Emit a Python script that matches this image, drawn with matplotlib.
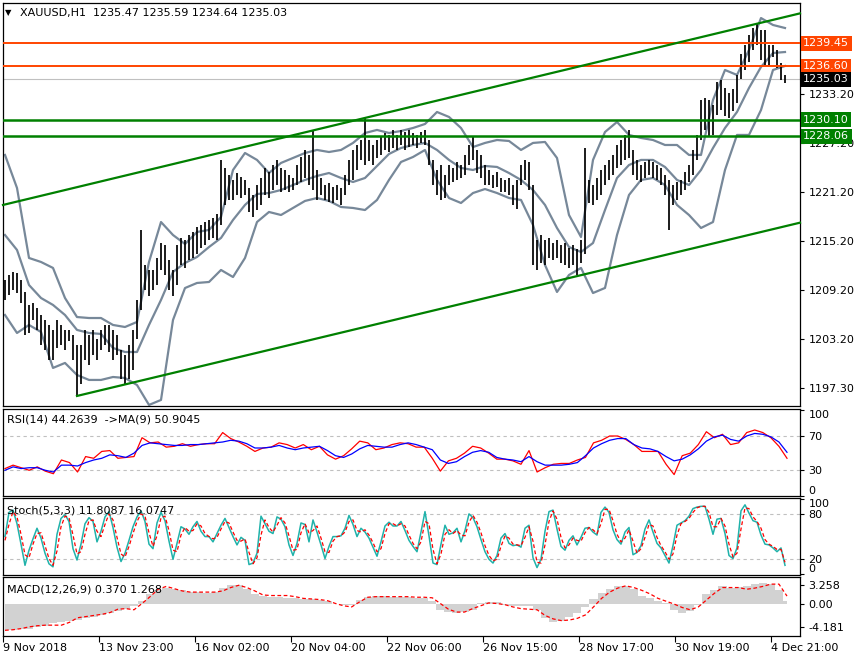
import numpy as np
import matplotlib.pyplot as plt
from matplotlib.transforms import blended_transform_factory

# ---- values (one bar every 2 hours) ----
bar_high = [
    1210.5, 1211.1, 1211.4, 1211.3, 1210.5, 1209.0, 1207.4, 1207.6, 1207.0, 1206.2,
    1205.6, 1204.9, 1204.4, 1205.6, 1204.9, 1204.4, 1204.4, 1203.7, 1202.5, 1202.5,
    1204.4, 1203.7, 1204.4, 1203.2, 1204.4, 1204.9, 1204.9, 1204.4, 1203.7, 1201.9,
    1201.3, 1202.5, 1204.4, 1208.0, 1216.6, 1212.3, 1211.7, 1211.7, 1213.2, 1215.0,
    1214.8, 1212.9, 1211.7, 1214.8, 1215.6, 1215.4, 1216.0, 1216.4, 1216.9, 1217.2,
    1217.6, 1217.8, 1218.1, 1218.5, 1225.1, 1224.2, 1223.3, 1222.7, 1223.6, 1223.1,
    1222.7, 1221.7, 1220.9, 1222.1, 1223.0, 1224.2, 1223.7, 1224.6, 1225.1, 1224.2,
    1223.9, 1223.3, 1223.0, 1224.6, 1225.5, 1226.4, 1225.8, 1228.8, 1223.9, 1223.0,
    1222.1, 1222.3, 1221.8, 1222.1, 1221.7, 1223.3, 1225.1, 1226.4, 1227.0, 1227.6,
    1230.3, 1227.6, 1227.0, 1227.6, 1228.0, 1228.5, 1228.2, 1228.8, 1228.2, 1228.8,
    1228.6, 1228.8, 1228.5, 1228.2, 1228.6, 1228.8, 1227.6, 1225.1, 1223.9, 1224.6,
    1223.3, 1224.6, 1224.2, 1224.9, 1224.6, 1225.8, 1227.0, 1228.1, 1226.4, 1225.8,
    1224.6, 1223.9, 1223.3, 1223.7, 1223.0, 1222.7, 1223.0, 1222.1, 1222.7, 1224.6,
    1225.1, 1224.9, 1222.1, 1215.4, 1216.0, 1215.4, 1215.6, 1215.0, 1215.4, 1214.8,
    1215.0, 1214.4, 1214.8, 1214.2, 1215.4, 1226.6, 1222.7, 1222.1, 1223.0, 1223.9,
    1224.6, 1225.1, 1225.8, 1227.0, 1227.6, 1228.2, 1228.8, 1226.4, 1225.1, 1224.6,
    1224.9, 1225.1, 1224.9, 1224.6, 1224.2, 1223.3, 1222.7, 1222.1, 1222.5, 1222.7,
    1223.7, 1224.6, 1226.4, 1228.2, 1232.5, 1232.8, 1232.5, 1231.9, 1234.7, 1234.9,
    1234.0, 1233.3, 1233.9, 1235.6, 1238.1, 1239.2, 1240.5, 1241.3, 1241.9, 1241.1,
    1241.1, 1239.2, 1239.2, 1238.6, 1237.0, 1235.6,
]
bar_low = [
    1208.0, 1208.6, 1209.2, 1208.9, 1207.6, 1203.7, 1204.0, 1205.6, 1204.4, 1202.5,
    1201.9, 1200.7, 1200.7, 1202.2, 1202.5, 1201.9, 1203.0, 1200.7, 1196.3, 1197.7,
    1200.7, 1200.1, 1201.3, 1200.7, 1201.9, 1202.5, 1201.6, 1200.7, 1201.3, 1198.3,
    1197.7, 1198.3, 1199.5, 1203.2, 1206.8, 1209.3, 1208.5, 1209.3, 1209.9, 1211.7,
    1211.1, 1209.3, 1208.5, 1209.9, 1212.3, 1211.9, 1212.9, 1213.2, 1213.6, 1214.4,
    1214.8, 1215.4, 1215.6, 1215.4, 1217.2, 1219.6, 1220.3, 1220.3, 1220.9, 1220.5,
    1220.9, 1218.8, 1218.2, 1219.0, 1219.6, 1220.9, 1220.5, 1221.5, 1222.1, 1221.2,
    1221.5, 1221.2, 1221.5, 1222.1, 1222.5, 1223.0, 1222.1, 1221.5, 1220.3, 1220.9,
    1220.3, 1220.0, 1219.9, 1220.3, 1219.6, 1220.9, 1222.1, 1222.7, 1223.9, 1225.1,
    1224.6, 1225.0, 1224.6, 1225.4, 1225.8, 1226.4, 1226.1, 1226.6, 1226.4, 1227.0,
    1226.4, 1226.7, 1227.0, 1226.6, 1227.2, 1227.0, 1224.6, 1222.1, 1220.9, 1220.3,
    1220.5, 1222.1, 1222.5, 1222.7, 1223.0, 1223.3, 1224.6, 1225.1, 1223.6, 1223.0,
    1222.1, 1222.1, 1221.7, 1221.9, 1221.2, 1221.2, 1220.9, 1219.6, 1219.2, 1222.1,
    1222.7, 1221.5, 1212.3, 1211.7, 1212.6, 1212.3, 1213.2, 1212.9, 1213.2, 1212.6,
    1212.3, 1211.9, 1212.3, 1211.1, 1212.6, 1213.6, 1219.9, 1219.6, 1220.3, 1220.9,
    1222.1, 1222.7, 1223.3, 1224.2, 1224.6, 1225.1, 1225.4, 1223.3, 1222.7, 1222.5,
    1223.0, 1223.3, 1223.0, 1222.7, 1222.1, 1220.9, 1216.6, 1219.6, 1220.3, 1220.9,
    1221.5, 1222.5, 1223.3, 1225.1, 1227.6, 1228.8, 1228.1, 1228.2, 1230.7, 1231.3,
    1230.5, 1230.3, 1231.1, 1232.1, 1235.1, 1236.2, 1237.2, 1238.6, 1239.2, 1237.4,
    1236.8, 1236.6, 1237.7, 1236.4, 1235.0, 1234.6,
]

# Bollinger bands, one value every 6 hours
bb_upper = [
    1225.77, 1221.73, 1213.16, 1212.67, 1211.94, 1208.26, 1205.93, 1205.81, 1205.81, 1204.96,
    1204.71, 1205.33, 1212.67, 1217.56, 1215.97, 1214.87, 1216.34, 1216.59, 1218.18, 1223.93,
    1226.01, 1225.16, 1223.56, 1224.79, 1225.40, 1226.01, 1226.38, 1226.13, 1226.38, 1227.24,
    1228.46, 1228.83, 1228.46, 1228.70, 1229.07, 1229.56, 1231.03, 1230.42, 1229.07, 1226.74,
    1227.24, 1227.60, 1227.48, 1226.38, 1227.24, 1227.36, 1225.40, 1218.42, 1215.73, 1225.16,
    1228.58, 1229.81, 1228.22, 1227.85, 1227.60, 1226.99, 1226.99, 1225.77, 1225.77, 1232.50,
    1236.17, 1235.56, 1238.62, 1242.53, 1241.68, 1241.31,
]
bb_middle = [
    1215.97, 1214.14, 1209.85, 1208.26, 1207.41, 1206.18, 1204.35, 1203.98, 1203.86, 1202.14,
    1201.65, 1201.65, 1204.96, 1208.02, 1211.45, 1212.55, 1213.28, 1214.50, 1215.61, 1217.81,
    1219.65, 1220.99, 1221.11, 1221.48, 1222.09, 1222.71, 1223.20, 1223.56, 1222.95, 1222.46,
    1222.95, 1224.42, 1225.89, 1226.62, 1226.99, 1227.24, 1226.38, 1225.16, 1224.18, 1223.93,
    1224.42, 1224.30, 1223.56, 1222.71, 1221.48, 1219.65, 1216.83, 1214.50, 1213.89, 1214.99,
    1219.03, 1222.95, 1224.54, 1225.16, 1225.16, 1224.30, 1222.71, 1222.09, 1223.93, 1226.62,
    1229.07, 1231.03, 1233.97, 1236.54, 1238.25, 1238.37,
]
bb_lower = [
    1206.18, 1203.98, 1204.96, 1204.10, 1199.70, 1200.31, 1198.84, 1198.23, 1198.23, 1198.59,
    1198.47, 1197.61, 1195.17, 1195.78, 1205.57, 1209.48, 1210.10, 1210.22, 1211.69, 1210.83,
    1213.16, 1217.56, 1218.79, 1218.42, 1219.28, 1220.14, 1220.50, 1220.14, 1219.40, 1219.28,
    1219.03, 1220.26, 1222.71, 1224.91, 1225.52, 1226.38, 1222.71, 1220.50, 1219.89, 1221.11,
    1221.60, 1221.11, 1220.50, 1220.26, 1217.20, 1212.30, 1209.00, 1211.08, 1211.94, 1208.87,
    1209.49, 1215.97, 1220.87, 1222.71, 1222.95, 1222.09, 1219.65, 1218.42, 1216.83, 1217.56,
    1223.93, 1228.22, 1228.22, 1231.27, 1236.17, 1236.66,
]

# RSI(14) and its MA(9), one value every 4 hours
rsi_values = [
    32, 36, 33, 30, 34, 29, 26, 42, 39, 28,
    46, 44, 52, 53, 44, 45, 46, 68, 62, 63,
    57, 58, 61, 58, 60, 61, 61, 74, 67, 63,
    58, 52, 56, 57, 62, 60, 56, 60, 54, 58,
    48, 43, 47, 55, 64, 62, 54, 56, 60, 62,
    61, 57, 57, 44, 29, 41, 44, 50, 58, 56,
    50, 43, 43, 41, 37, 53, 28, 33, 37, 38,
    38, 42, 45, 62, 65, 70, 70, 66, 60, 52,
    52, 52, 37, 25, 47, 50, 60, 75, 68, 72,
    60, 62, 74, 77, 74, 68, 58, 44,
]
rsi_ma = [
    30, 34, 32, 33, 33, 30, 28, 36, 36, 35,
    39, 42, 44, 48, 47, 45, 50, 59, 62, 61,
    60, 59, 59, 60, 60, 61, 62, 63, 65, 64,
    61, 56, 56, 57, 59, 56, 54, 56, 57, 58,
    53, 47, 45, 49, 55, 59, 58, 57, 57, 60,
    62, 60, 57, 54, 42, 38, 40, 46, 51, 53,
    51, 45, 43, 42, 40, 46, 40, 36, 36, 36,
    37, 39, 47, 56, 61, 65, 67, 67, 60, 56,
    55, 52, 46, 41, 43, 48, 55, 64, 69, 71,
    66, 64, 70, 73, 72, 69, 63, 51,
]

# Stochastic(5,3,3), one value every 2 hours
stoch_k = [
    50, 82, 85, 67, 40, 12, 32, 47, 61, 48,
    28, 14, 10, 53, 74, 79, 70, 34, 19, 40,
    67, 75, 70, 43, 57, 76, 83, 62, 36, 17,
    28, 45, 63, 76, 84, 70, 40, 34, 68, 82,
    71, 44, 20, 41, 63, 60, 53, 63, 70, 57,
    50, 50, 43, 54, 65, 74, 62, 50, 39, 49,
    45, 13, 15, 28, 77, 67, 57, 54, 76, 73,
    63, 39, 25, 41, 68, 66, 43, 72, 56, 39,
    21, 37, 50, 50, 51, 61, 78, 66, 50, 61,
    56, 48, 36, 24, 43, 64, 69, 64, 64, 70,
    58, 45, 37, 30, 56, 83, 51, 15, 13, 40,
    65, 53, 55, 61, 43, 58, 80, 75, 63, 46,
    30, 20, 15, 25, 48, 54, 41, 38, 39, 36,
    61, 65, 22, 9, 20, 57, 83, 85, 60, 37,
    32, 45, 51, 39, 49, 61, 62, 56, 52, 82,
    89, 82, 59, 46, 40, 56, 62, 26, 29, 38,
    60, 72, 56, 41, 35, 25, 15, 38, 65, 68,
    71, 77, 87, 89, 90, 90, 73, 53, 73, 74,
    54, 25, 21, 35, 84, 92, 81, 71, 69, 52,
    40, 39, 35, 30, 35, 12,
]
stoch_d = [
    45, 66, 83, 76, 53, 26, 22, 40, 54, 55,
    38, 21, 12, 31, 63, 77, 75, 52, 27, 30,
    53, 71, 72, 57, 50, 66, 80, 72, 49, 27,
    23, 37, 54, 70, 80, 77, 55, 37, 51, 75,
    77, 58, 32, 30, 52, 62, 57, 58, 67, 64,
    54, 50, 47, 49, 60, 70, 68, 56, 45, 44,
    47, 29, 14, 22, 52, 72, 62, 56, 65, 75,
    68, 51, 32, 33, 55, 67, 55, 58, 64, 48,
    30, 29, 44, 50, 51, 56, 70, 72, 58, 56,
    59, 52, 42, 30, 34, 54, 67, 67, 64, 67,
    64, 52, 41, 34, 43, 70, 67, 33, 14, 27,
    53, 59, 54, 58, 52, 51, 69, 78, 69, 55,
    38, 25, 18, 20, 37, 51, 48, 40, 39, 38,
    49, 63, 44, 16, 15, 39, 70, 84, 73, 49,
    35, 39, 48, 45, 44, 55, 62, 59, 54, 67,
    86, 86, 71, 53, 43, 48, 59, 44, 28, 34,
    49, 66, 64, 49, 38, 30, 20, 27, 52, 67,
    70, 74, 82, 88, 90, 90, 82, 63, 63, 74,
    64, 40, 23, 28, 60, 88, 87, 76, 70, 61,
    46, 40, 37, 33, 33, 16,
]

# MACD(12,26,9): main (histogram) and signal, one value every 4 hours
macd_main = [
    -4.7, -4.6, -4.5, -4.4, -4.2, -3.9, -3.5, -3.2, -3.0, -2.9,
    -2.6, -2.3, -2.0, -1.7, -1.3, -0.9, -0.5, 0.4, 1.6, 2.4,
    2.8, 2.6, 2.3, 2.0, 2.0, 1.9, 2.1, 2.8, 3.2, 3.2,
    2.6, 1.6, 1.3, 1.2, 1.1, 1.0, 0.9, 0.8, 0.8, 0.6,
    0.4, -0.1, -0.3, -0.2, 0.6, 1.2, 1.4, 1.3, 1.2, 1.1,
    1.1, 1.0, 0.9, 0.5, -1.2, -1.5, -1.6, -1.5, -1.2, 0.1,
    0.2, 0.2, -0.3, -0.5, -0.5, -0.5, -1.2, -2.6, -3.2, -3.0,
    -2.4, -1.6, -0.6, 0.8, 1.8, 2.6, 3.0, 3.1, 2.6, 1.4,
    0.9, 0.5, 0.1, -1.2, -1.6, -1.3, -0.2, 1.6, 2.4, 3.0,
    2.8, 2.9, 3.1, 3.4, 3.6, 3.4, 2.4, 0.4,
]
macd_signal = [
    -4.7, -4.6, -4.4, -4.1, -3.9, -3.8, -3.8, -3.8, -3.3, -2.5,
    -2.3, -2.1, -1.9, -1.6, -1.0, -0.9, -1.1, 0.0, 1.2, 2.5,
    3.0, 2.6, 2.2, 2.0, 2.0, 2.0, 2.0, 2.2, 2.8, 3.2,
    2.8, 2.2, 1.5, 1.4, 1.4, 1.4, 1.2, 0.9, 0.8, 0.7,
    0.5, 0.0, -0.4, -0.6, 0.3, 1.1, 1.2, 1.2, 1.2, 1.2,
    1.2, 1.1, 1.1, 1.0, 0.0, -1.0, -1.5, -1.5, -0.9, -0.4,
    0.1, 0.0, -0.2, -0.6, -0.9, -1.0, -1.1, -2.1, -2.7, -3.0,
    -2.9, -2.6, -2.0, -0.6, 0.9, 2.0, 2.7, 3.1, 2.8, 2.3,
    1.7, 0.9, 0.4, -0.1, -0.7, -1.1, -0.6, 0.6, 1.8, 2.8,
    2.8, 2.8, 2.5, 2.7, 3.0, 3.4, 3.4, 1.3,
]

price_ticks = [1233.20, 1227.20, 1221.20, 1215.20, 1209.20, 1203.20, 1197.30]
resistance_levels = [1239.45, 1236.60]
support_levels = [1230.10, 1228.06]
last_price = 1235.03
# channel lines: (hour, price) anchors
channel_top = [(-1, 1219.65), (397.5, 1243.10)]
channel_bottom = [(36, 1196.27), (397.5, 1217.48)]
date_labels = ["9 Nov 2018", "13 Nov 23:00", "16 Nov 02:00", "20 Nov 04:00",
               "22 Nov 06:00", "26 Nov 15:00", "28 Nov 17:00", "30 Nov 19:00",
               "4 Dec 21:00"]
date_hours = [-1, 47, 95, 143, 191, 239, 287, 335, 383]

W, H = 860, 660
XMIN, XMAX = -1, 397.5
ORANGE = "#ff4500"
GREEN = "#008000"
BAND = "#778899"


def panel(fig, top, bottom):
    """Create a sub-window spanning the given pixel rows."""
    ax = fig.add_axes([3 / W, 1 - bottom / H, 797 / W, (bottom - top) / H])
    ax.set_xlim(XMIN, XMAX)
    ax.yaxis.tick_right()
    ax.tick_params(axis="y", length=3, width=0.8, labelsize=8, pad=3)
    ax.tick_params(axis="x", bottom=False, labelbottom=False)
    for s in ax.spines.values():
        s.set_linewidth(0.9)
    return ax


def spread(values, last_hour=390):
    return np.linspace(0, last_hour, len(values))


def main():
    fig = plt.figure(figsize=(W / 100, H / 100), dpi=100)
    fig.patch.set_facecolor("white")

    # ---- price window ----
    ax = panel(fig, 3, 406)
    ax.set_ylim(1195.04, 1244.37)
    ax.set_yticks(price_ticks, labels=[f"{p:.2f}" for p in price_ticks])

    hours = np.arange(len(bar_high)) * 2
    ax.vlines(hours, bar_low, bar_high, color="black", lw=1.25, zorder=3)

    bh = spread(bb_upper)
    for band in (bb_upper, bb_middle, bb_lower):
        ax.plot(bh, band, color=BAND, lw=1.6, zorder=2)

    for lvl in resistance_levels:
        ax.axhline(lvl, color=ORANGE, lw=1.4, zorder=4)
    for lvl in support_levels:
        ax.axhline(lvl, color=GREEN, lw=1.8, zorder=4)
    ax.axhline(last_price, color="#c0c0c0", lw=0.8, zorder=1)

    for line in (channel_top, channel_bottom):
        xs, ys = zip(*line)
        ax.plot(xs, ys, color=GREEN, lw=1.6, zorder=4, clip_on=False)

    trans = blended_transform_factory(ax.transAxes, ax.transData)
    tags = [(resistance_levels[0], ORANGE), (resistance_levels[1], ORANGE),
            (last_price, "black"), (support_levels[0], GREEN),
            (support_levels[1], GREEN)]
    for price, col in tags:
        ax.text(1.004, price, f"{price:.2f}", transform=trans, color="white",
                fontsize=8, va="center", ha="left", clip_on=False, zorder=10,
                bbox=dict(boxstyle="square,pad=0.22", fc=col, ec="none"))

    fig.text(5 / W, 1 - 13 / H, "\u25bc", fontsize=6, va="center")
    fig.text(20 / W, 1 - 13 / H, "XAUUSD,H1  1235.47 1235.59 1234.64 1235.03",
             fontsize=8, va="center")

    # ---- RSI ----
    ax_rsi = panel(fig, 409, 496)
    ax_rsi.set_ylim(0, 101.5)
    ax_rsi.set_yticks([100, 70, 30, 0], labels=["100", "70", "30", "0"])
    for y in (70, 30):
        ax_rsi.axhline(y, color="#c0c0c0", lw=0.8, ls=(0, (3, 3)))
    ax_rsi.plot(spread(rsi_values, 391), rsi_values, color="red", lw=0.9)
    ax_rsi.plot(spread(rsi_ma, 391), rsi_ma, color="blue", lw=0.9)
    ax_rsi.text(0.005, 0.88, "RSI(14) 44.2639  ->MA(9) 50.9045",
                transform=ax_rsi.transAxes, fontsize=8, va="center")

    # ---- Stochastic ----
    ax_st = panel(fig, 498, 575)
    ax_st.set_ylim(-0.8, 101)
    ax_st.set_yticks([100, 80, 20, 0], labels=["100", "80", "20", "0"])
    for y in (80, 20):
        ax_st.axhline(y, color="#c0c0c0", lw=0.8, ls=(0, (3, 3)))
    ax_st.plot(spread(stoch_k), stoch_k, color="#20b2aa", lw=1.1)
    ax_st.plot(spread(stoch_d), stoch_d, color="red", lw=0.9, ls=(0, (3, 2)))
    ax_st.text(0.005, 0.84, "Stoch(5,3,3) 11.8087 16.0747",
               transform=ax_st.transAxes, fontsize=8, va="center")

    # ---- MACD ----
    ax_m = panel(fig, 577, 636)
    ax_m.set_ylim(-5.7, 4.65)
    ax_m.set_yticks([3.258, 0.0, -4.181], labels=["3.258", "0.00", "-4.181"])
    mh = spread(macd_main, 391)
    ax_m.fill_between(mh, 0, macd_main, step="mid", color="#d2d2d2", lw=0)
    ax_m.plot(spread(macd_signal, 391), macd_signal, color="red", lw=0.9,
              ls=(0, (3, 2)))
    ax_m.text(0.005, 0.78, "MACD(12,26,9) 0.370 1.268",
              transform=ax_m.transAxes, fontsize=8, va="center")
    ax_m.set_xticks(date_hours, labels=date_labels)
    ax_m.tick_params(axis="x", bottom=True, labelbottom=True, length=4,
                     width=0.8, labelsize=8, pad=1)
    for lab in ax_m.get_xticklabels():
        lab.set_horizontalalignment("left")

    # edge labels sit inside the window like the terminal does
    for a in (ax_rsi, ax_st):
        labs = a.get_yticklabels()
        labs[0].set_verticalalignment("top")
        labs[-1].set_verticalalignment("bottom")

    fig.savefig("out.png", dpi=100)


if __name__ == "__main__":
    main()
